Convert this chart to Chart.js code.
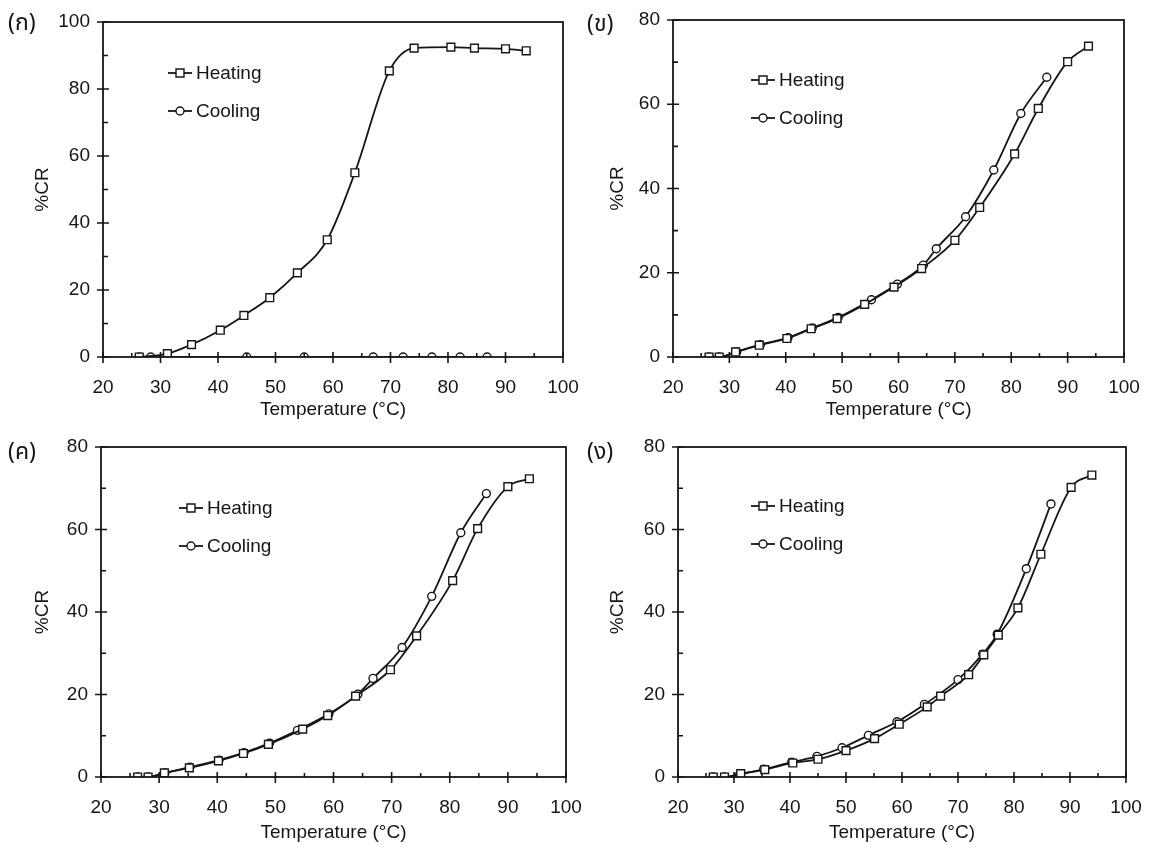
<!DOCTYPE html>
<html>
<head>
<meta charset="utf-8">
<script src="https://cdn.jsdelivr.net/npm/chart.js@4.4.1/dist/chart.umd.min.js"></script>
<style>
  body { margin: 0; background: #fff; }
  .panel { position: absolute; }
</style>
</head>
<body>
<div class="panel" style="left:0;top:0;width:600px;height:425px"><canvas id="c1"></canvas></div>
<div class="panel" style="left:575px;top:0;width:574px;height:425px"><canvas id="c2"></canvas></div>
<div class="panel" style="left:0;top:425px;width:600px;height:425px"><canvas id="c3"></canvas></div>
<div class="panel" style="left:575px;top:425px;width:574px;height:425px"><canvas id="c4"></canvas></div>
<script>
// panel (ก)
const tempH1 = [26.3, 31.2, 35.4, 40.4, 44.5, 49.0, 53.8, 59.0, 63.8, 69.8, 74.1, 80.5, 84.6, 90.0, 93.6]
const crH1   = [0, 1.0, 3.7, 8.0, 12.4, 17.7, 25.1, 35.0, 55.0, 85.4, 92.2, 92.5, 92.2, 92.0, 91.4]
const tempC1 = [26.3, 28.3, 45.0, 55.0, 67.0, 72.2, 77.2, 82.1, 86.8]
const crC1   = [0, 0, 0, 0, 0, 0, 0, 0, 0]
// panel (ข)
const tempH2 = [26.4, 28.2, 31.1, 35.3, 40.2, 44.5, 49.1, 54.0, 59.2, 64.1, 70.0, 74.4, 80.6, 84.8, 90.0, 93.7]
const crH2   = [0, 0, 1.2, 2.8, 4.4, 6.7, 9.1, 12.5, 16.6, 21.0, 27.7, 35.5, 48.2, 59.0, 70.1, 73.8]
const tempC2 = [26.4, 28.2, 31.3, 35.5, 40.4, 44.7, 49.3, 55.2, 59.8, 64.4, 66.7, 71.9, 76.9, 81.7, 86.3]
const crC2   = [0, 0, 1.2, 2.9, 4.6, 6.9, 9.4, 13.6, 17.3, 21.8, 25.7, 33.3, 44.4, 57.8, 66.4]
// panel (ค)
const tempH3 = [26.3, 28.1, 30.9, 35.2, 40.2, 44.5, 48.8, 54.7, 59.0, 63.8, 69.8, 74.3, 80.5, 84.8, 90.0, 93.7]
const crH3   = [0, 0, 1.0, 2.2, 3.9, 5.7, 7.9, 11.6, 14.9, 19.6, 26.0, 34.2, 47.6, 60.2, 70.4, 72.3]
const tempC3 = [26.3, 28.1, 31.0, 35.3, 40.3, 44.6, 49.0, 53.8, 59.2, 64.2, 66.8, 71.8, 76.9, 81.9, 86.3]
const crC3   = [0, 0, 1.0, 2.4, 4.1, 5.9, 8.2, 11.3, 15.3, 20.1, 23.9, 31.4, 43.8, 59.2, 68.7]
// panel (ง)
const tempH4 = [26.3, 28.3, 31.2, 35.5, 40.5, 45.0, 50.0, 55.1, 59.5, 64.5, 66.9, 71.9, 74.6, 77.2, 80.7, 84.8, 90.2, 93.9]
const crH4   = [0, 0, 0.8, 1.8, 3.4, 4.3, 6.4, 9.3, 12.8, 17.0, 19.6, 24.8, 29.6, 34.4, 41.0, 54.0, 70.2, 73.2]
const tempC4 = [26.3, 28.3, 31.0, 35.3, 40.3, 44.8, 49.3, 54.0, 59.1, 64.0, 70.0, 74.4, 77.0, 82.2, 86.6]
const crC4   = [0, 0, 0.6, 1.9, 3.6, 5.0, 7.1, 10.1, 13.4, 17.6, 23.6, 29.8, 34.6, 50.5, 66.2]

const panelLabels = ['(ก)', '(ข)', '(ค)', '(ง)']
const seriesNames = ['Heating', 'Cooling']
const yMaxes = [100, 80, 80, 80]
const xTitle = 'Temperature (\u00B0C)'
const yTitle = '%CR'

const ink = '#161616'
const tickFont = { family: 'Arial, "Liberation Sans", sans-serif', size: 19 }

// layout of each panel inside its canvas
const layouts = [
    { pad: { left: 0, top: 22, right: 37, bottom: 0 }, yW: 103, xH: 68, leg: [168, 73, 111], lab: [8, 25] },
    { pad: { left: 0, top: 20, right: 25, bottom: 0 }, yW: 98, xH: 68, leg: [176, 80, 118], lab: [12, 26] },
    { pad: { left: 0, top: 22, right: 34, bottom: 0 }, yW: 101, xH: 73, leg: [179, 83, 121], lab: [8, 29] },
    { pad: { left: 0, top: 22, right: 23, bottom: 0 }, yW: 103, xH: 73, leg: [176, 81, 119], lab: [12, 29] }
]

const sets = [
    [tempH1, crH1, tempC1, crC1],
    [tempH2, crH2, tempC2, crC2],
    [tempH3, crH3, tempC3, crC3],
    [tempH4, crH4, tempC4, crC4]
]

function pts(xs, ys) {
    return xs.map((x, i) => ({ x: x, y: ys[i] }))
}

function marker(ctx, style, x, y) {
    ctx.beginPath()
    if (style === 'rect') ctx.rect(x - 4, y - 4, 8, 8)
    else ctx.arc(x, y, 4, 0, Math.PI * 2)
    ctx.fillStyle = '#fff'
    ctx.fill()
    ctx.lineWidth = 1.4
    ctx.strokeStyle = ink
    ctx.stroke()
}

const framePlugin = {
    id: 'frame',
    afterDraw(chart, args, opts) {
        const ctx = chart.ctx
        const a = chart.chartArea
        const xs = chart.scales.x, ys = chart.scales.y
        ctx.save()
        ctx.strokeStyle = ink
        ctx.lineWidth = 1.8
        ctx.strokeRect(a.left, a.top, a.right - a.left, a.bottom - a.top)
        ctx.lineWidth = 1.6
        ctx.beginPath()
        for (let v = 20; v <= 100; v += 5) {
            const px = xs.getPixelForValue(v)
            if (v % 10 === 0) { ctx.moveTo(px, a.bottom - 5); ctx.lineTo(px, a.bottom + 6) }
            else { ctx.moveTo(px, a.bottom - 4); ctx.lineTo(px, a.bottom) }
        }
        for (let v = 0; v <= ys.max; v += 10) {
            const py = ys.getPixelForValue(v)
            if (v % 20 === 0) { ctx.moveTo(a.left - 6, py); ctx.lineTo(a.left + 6, py) }
            else { ctx.moveTo(a.left, py); ctx.lineTo(a.left + 5, py) }
        }
        ctx.stroke()

        // legend
        const leg = opts.leg
        ctx.font = '19px Arial, "Liberation Sans", sans-serif'
        ctx.textBaseline = 'middle'
        const styles = ['rect', 'circle']
        for (let i = 0; i < 2; i++) {
            const y = leg[i + 1]
            ctx.beginPath()
            ctx.lineWidth = 1.8
            ctx.strokeStyle = ink
            ctx.moveTo(leg[0], y)
            ctx.lineTo(leg[0] + 24, y)
            ctx.stroke()
            marker(ctx, styles[i], leg[0] + 12, y)
            ctx.fillStyle = ink
            ctx.fillText(seriesNames[i], leg[0] + 28, y + 1)
        }

        // panel label
        ctx.font = '23px "Noto Sans Thai", Loma, Garuda, "DejaVu Sans", sans-serif'
        ctx.fillStyle = ink
        ctx.fillText(opts.label, opts.lab[0], opts.lab[1])
        ctx.restore()
    }
}

sets.forEach((s, k) => {
    const L = layouts[k]
    const ctx = document.getElementById('c' + (k + 1)).getContext('2d')
    new Chart(ctx, {
        type: 'scatter',
        data: {
            datasets: [{
                label: seriesNames[0],
                data: pts(s[0], s[1]),
                showLine: true,
                borderColor: ink,
                borderWidth: 1.8,
                cubicInterpolationMode: 'monotone',
                pointStyle: 'rect',
                pointRadius: 5.5,
                pointBorderWidth: 1.4,
                pointBackgroundColor: '#fff',
                pointBorderColor: ink
            }, {
                label: seriesNames[1],
                data: pts(s[2], s[3]),
                showLine: true,
                borderColor: k === 0 ? '#555' : ink,
                borderWidth: 1.8,
                cubicInterpolationMode: 'monotone',
                pointStyle: 'circle',
                pointRadius: 4,
                pointBorderWidth: 1.4,
                pointBackgroundColor: '#fff',
                pointBorderColor: ink
            }]
        },
        options: {
            responsive: true,
            maintainAspectRatio: false,
            animation: false,
            layout: { padding: L.pad },
            scales: {
                x: {
                    type: 'linear',
                    min: 20,
                    max: 100,
                    grid: { display: false },
                    border: { display: false },
                    ticks: { stepSize: 10, color: ink, font: tickFont, padding: 11, maxRotation: 0 },
                    title: { display: true, text: xTitle, color: ink, font: tickFont, padding: { top: 0, bottom: k < 2 ? 4 : 6 } },
                    afterFit: function (scale) {
                        scale.height = L.xH
                        scale.paddingLeft = 0
                        scale.paddingRight = 0
                    }
                },
                y: {
                    min: 0,
                    max: yMaxes[k],
                    grid: { display: false },
                    border: { display: false },
                    ticks: { stepSize: 20, color: ink, font: tickFont, padding: 5 },
                    title: { display: true, text: yTitle, color: ink, font: tickFont, padding: { top: 31, bottom: 0 } },
                    afterFit: function (scale) {
                        scale.width = L.yW
                    }
                }
            },
            plugins: {
                legend: { display: false },
                tooltip: { enabled: false },
                frame: { leg: L.leg, lab: L.lab, label: panelLabels[k] }
            }
        },
        plugins: [framePlugin]
    })
})
</script>
</body>
</html>
